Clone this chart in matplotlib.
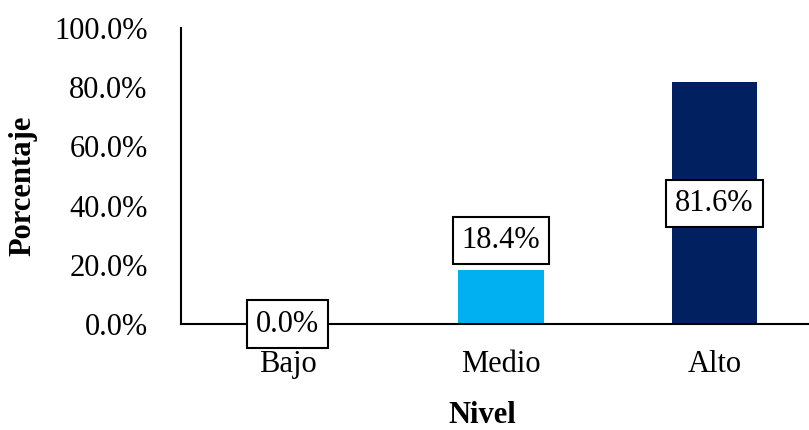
import numpy as np
import matplotlib.pyplot as plt
from matplotlib.ticker import PercentFormatter

niveles = ["Bajo", "Medio", "Alto"]
porcentajes = [0.0, 18.4, 81.6]
colores = ["#9DC3E6", "#00B0F0", "#002060"]
yticks = [0, 20, 40, 60, 80, 100]

plt.rcParams['font.family'] = ['Liberation Serif', 'DejaVu Serif']

fig = plt.figure(figsize=(8.09, 4.30), dpi=100)
ax = fig.add_axes([181 / 809, 106 / 430, 640 / 809, 296 / 430])

x = np.arange(len(niveles))
bars = ax.bar(x, porcentajes, width=0.40, color=colores, zorder=2)

box = dict(boxstyle="square,pad=0.3", facecolor="white", edgecolor="black", linewidth=1.5)
for xi, val in zip(x, porcentajes):
    txt = f"{val:.1f}%"
    if val == 0:
        ax.text(xi, 0, txt, ha="center", va="center", fontsize=22, bbox=box, zorder=4)
    elif val < 50:
        ax.text(xi, val + 5.0, txt, ha="center", va="bottom", fontsize=22, bbox=box, zorder=4)
    else:
        ax.text(xi, val / 2, txt, ha="center", va="center", fontsize=22, bbox=box, zorder=4)

ax.set_xlim(-0.5, 2.5)
ax.set_ylim(0, 100)
ax.set_yticks(yticks)
ax.yaxis.set_major_formatter(PercentFormatter(decimals=1))
ax.set_xticks(x)
ax.set_xticklabels(niveles)
ax.tick_params(axis="both", length=0, labelsize=22)
ax.tick_params(axis="y", pad=24)
ax.tick_params(axis="x", pad=19)

for side in ["top", "right"]:
    ax.spines[side].set_visible(False)
for side in ["left", "bottom"]:
    ax.spines[side].set_linewidth(1.5)
    ax.spines[side].set_zorder(3)

ax.set_xlabel("Nivel", fontsize=22, fontweight="bold")
ax.set_ylabel("Porcentaje", fontsize=22, fontweight="bold")
ax.xaxis.set_label_coords((482 - 181) / 640, -(401 - 324) / 296)
ax.yaxis.set_label_coords(-(181 - 37) / 640, (324 - 186) / 296)

fig.savefig("out.png", dpi=100)
